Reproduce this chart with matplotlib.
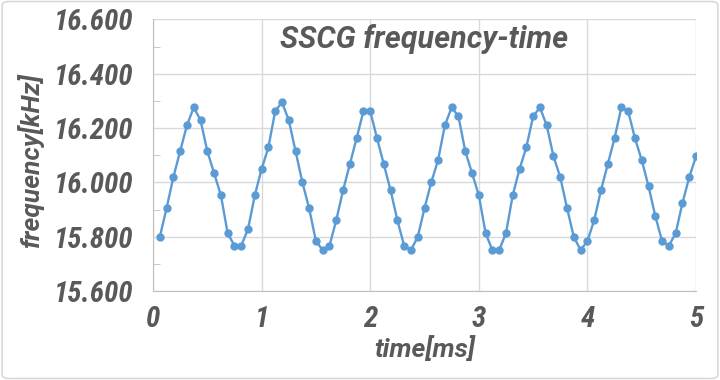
import matplotlib.pyplot as plt
from matplotlib.patches import FancyBboxPatch
from matplotlib.ticker import MultipleLocator, FormatStrFormatter

# time [ms] of each sample (one sample per ~16 kHz period)
time_ms = [0.0625, 0.125, 0.1875, 0.25, 0.3125, 0.375, 0.4375, 0.5, 0.5625, 0.625,
           0.6875, 0.75, 0.8125, 0.875, 0.9375, 1.0, 1.0625, 1.125, 1.1875, 1.25,
           1.3125, 1.375, 1.4375, 1.5, 1.5625, 1.625, 1.6875, 1.75, 1.8125, 1.875,
           1.9375, 2.0, 2.0625, 2.125, 2.1875, 2.25, 2.3125, 2.375, 2.4375, 2.5,
           2.5625, 2.625, 2.6875, 2.75, 2.8125, 2.875, 2.9375, 3.0, 3.0625, 3.125,
           3.1875, 3.25, 3.3125, 3.375, 3.4375, 3.5, 3.5625, 3.625, 3.6875, 3.75,
           3.8125, 3.875, 3.9375, 4.0, 4.0625, 4.125, 4.1875, 4.25, 4.3125, 4.375,
           4.4375, 4.5, 4.5625, 4.625, 4.6875, 4.75, 4.8125, 4.875, 4.9375, 5.0]

# frequency [kHz]
freq_khz = [15.799, 15.905, 16.019, 16.115, 16.210, 16.276, 16.229, 16.115, 16.034, 15.953,
            15.813, 15.767, 15.767, 15.828, 15.953, 16.049, 16.129, 16.262, 16.295, 16.229,
            16.115, 16.001, 15.905, 15.784, 15.751, 15.767, 15.861, 15.971, 16.067, 16.163,
            16.262, 16.262, 16.163, 16.067, 15.971, 15.861, 15.767, 15.751, 15.799, 15.905,
            16.001, 16.082, 16.210, 16.276, 16.243, 16.115, 16.034, 15.953, 15.813, 15.751,
            15.751, 15.813, 15.953, 16.049, 16.129, 16.243, 16.276, 16.210, 16.096, 16.019,
            15.905, 15.799, 15.751, 15.784, 15.861, 15.971, 16.067, 16.163, 16.276, 16.262,
            16.163, 16.082, 15.986, 15.876, 15.784, 15.767, 15.813, 15.924, 16.019, 16.096]

text_col = '#595959'
fam = ['Roboto', 'DejaVu Sans']
fam_cond = ['Roboto Condensed', 'Roboto', 'DejaVu Sans']
font = dict(family=fam, weight='bold', style='italic', color=text_col)

fig = plt.figure(figsize=(7.2, 3.8), dpi=100)
ax = fig.add_axes([0.2125, 0.234, 0.7542, 0.715])

ax.plot(time_ms, freq_khz, color='#5b9bd5', lw=1.7, marker='o', ms=5, zorder=3)

ax.set_xlim(0, 5)
ax.set_ylim(15.6, 16.6)
ax.xaxis.set_major_locator(MultipleLocator(1))
ax.yaxis.set_major_locator(MultipleLocator(0.2))
ax.yaxis.set_minor_locator(MultipleLocator(0.1))
ax.yaxis.set_major_formatter(FormatStrFormatter('%.3f'))
ax.grid(True, color='#d9d9d9', lw=1)
ax.set_axisbelow(True)

for s in ['top', 'right']:
    ax.spines[s].set_visible(False)
for s in ['left', 'bottom']:
    ax.spines[s].set_color('#bfbfbf')
ax.tick_params(axis='x', which='major', length=0, pad=10)
ax.tick_params(axis='y', which='major', length=0, pad=14)
ax.tick_params(axis='y', which='minor', direction='in', length=5, color='#bfbfbf')

for lab in ax.get_xticklabels() + ax.get_yticklabels():
    lab.set_fontfamily(fam_cond)
    lab.set_fontweight('bold')
    lab.set_fontstyle('italic')
    lab.set_fontsize(21)
    lab.set_color(text_col)

ax.set_xlabel('time[ms]', fontsize=19, **font)
ax.xaxis.set_label_coords(0.5, -0.165)
ax.set_ylabel('frequency[kHz]', fontsize=19, **font)
ax.yaxis.set_label_coords(-0.2, 0.48)
ax.text(0.5, 0.926, 'SSCG frequency-time', transform=ax.transAxes, ha='center', va='center',
        fontsize=22, **font)

# outer chart border
fig.patches.append(FancyBboxPatch((0.003, 0.004), 0.994, 0.992, boxstyle='round,pad=0,rounding_size=0.01',
                                  transform=fig.transFigure, fill=False, edgecolor='#d9d9d9', lw=1.2))

fig.savefig('out.png', dpi=100)
